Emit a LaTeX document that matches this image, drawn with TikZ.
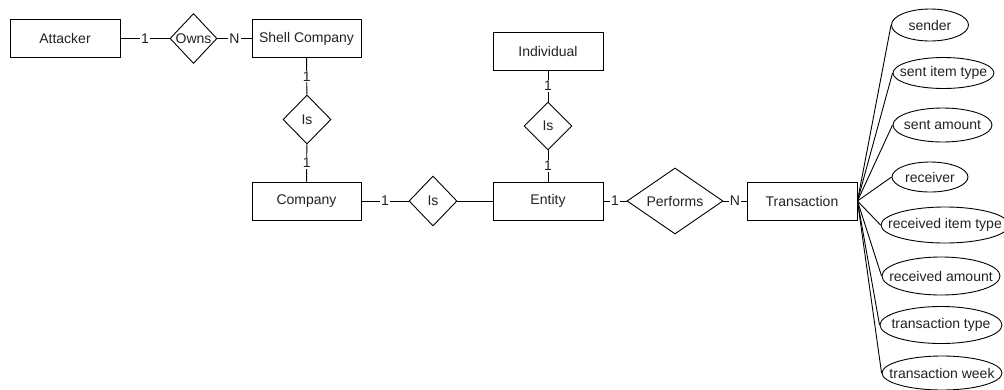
\documentclass[tikz,border=0pt]{standalone}
\usepackage{fontspec}
\setmainfont{Liberation Sans}
\usetikzlibrary{shapes.geometric}
\definecolor{ink}{HTML}{222222}
\tikzset{
  base/.style={draw=black, line width=0.9pt, text=ink, inner sep=0pt,
    font=\fontsize{14}{16}\selectfont},
  entitybox/.style={base, rectangle, minimum width=110pt, minimum height=38pt},
  attr/.style={base, ellipse},
  link/.style={draw=black, line width=0.9pt},
  card/.style={fill=white, text=ink, inner sep=1pt,
    font=\fontsize{14}{16}\selectfont},
  txt/.style={text=ink, inner sep=0pt, font=\fontsize{14}{16}\selectfont},
}
\begin{document}
\begin{tikzpicture}[x=1pt, y=-1pt]
\useasboundingbox (0,0) rectangle (1004,389);

% entities
\node[entitybox] (attacker) at (65,38.5) {Attacker};
\node[entitybox, minimum width=109pt] (shell) at (306.5,38.5) {Shell Company};
\node[entitybox, minimum width=109pt] (company) at (306.5,201) {Company};
\node[entitybox] (individual) at (548,51) {Individual};
\node[entitybox] (entity) at (548,201) {Entity};
\node[entitybox] (transaction) at (802,201) {Transaction};

% relationships (diamond outline + its caption)
\node[base, diamond, minimum width=47pt, minimum height=50pt] (owns) at (193.5,38.5) {};
\node[txt] (owns-t) at (owns.center) {Owns};
\node[base, diamond, minimum width=48pt, minimum height=49pt] (isa) at (307,119.5) {};
\node[txt] (isa-t) at (isa.center) {Is};
\node[base, diamond, minimum width=48pt, minimum height=50pt] (isb) at (433,201) {};
\node[txt] (isb-t) at (isb.center) {Is};
\node[base, diamond, minimum width=48pt, minimum height=48pt] (isc) at (548,126) {};
\node[txt] (isc-t) at (isc.center) {Is};
\node[base, diamond, minimum width=96pt, minimum height=66pt] (performs) at (675,201) {};
\node[txt] (performs-t) at (performs.center) {Performs};

% attributes of a transaction
\node[attr, minimum width=77pt, minimum height=32pt] (sender) at (930,25) {};
\node[txt] at (sender.center) {sender};
\node[attr, minimum width=101pt, minimum height=31pt] (sentitem) at (943.5,73) {};
\node[txt] at (sentitem.center) {sent item type};
\node[attr, minimum width=99pt, minimum height=34pt] (sentamt) at (942.5,125) {};
\node[txt] at (sentamt.center) {sent amount};
\node[attr, minimum width=76pt, minimum height=30pt] (receiver) at (930,177) {};
\node[txt] at (receiver.center) {receiver};
\node[attr, minimum width=128pt, minimum height=36pt] (recitem) at (945,225) {};
\node[txt] at (recitem.center) {received item type};
\node[attr, minimum width=118pt, minimum height=38pt] (recamt) at (941,276) {};
\node[txt] at (recamt.center) {received amount};
\node[attr, minimum width=122pt, minimum height=37pt] (ttype) at (941,325) {};
\node[txt] at (ttype.center) {transaction type};
\node[attr, minimum width=120pt, minimum height=34pt] (tweek) at (942,373) {};
\node[txt] at (tweek.center) {transaction week};

% connectors with cardinalities
\draw[link] (attacker) -- node[card] {1} (owns);
\draw[link] (owns) -- node[card] {N} (shell);
\draw[link] (shell) -- node[card] {1} (isa);
\draw[link] (isa) -- node[card] {1} (company);
\draw[link] (company) -- node[card] {1} (isb);
\draw[link] (isb) -- (entity);
\draw[link] (individual) -- node[card] {1} (isc);
\draw[link] (isc) -- node[card] {1} (entity);
\draw[link] (entity) -- node[card] {1} (performs);
\draw[link] (performs) -- node[card] {N} (transaction);

% attribute links
\foreach \a in {sender,sentitem,sentamt,receiver,recitem,recamt,ttype,tweek}
  \draw[link] (transaction.east) -- (\a.west);
\end{tikzpicture}
\end{document}
